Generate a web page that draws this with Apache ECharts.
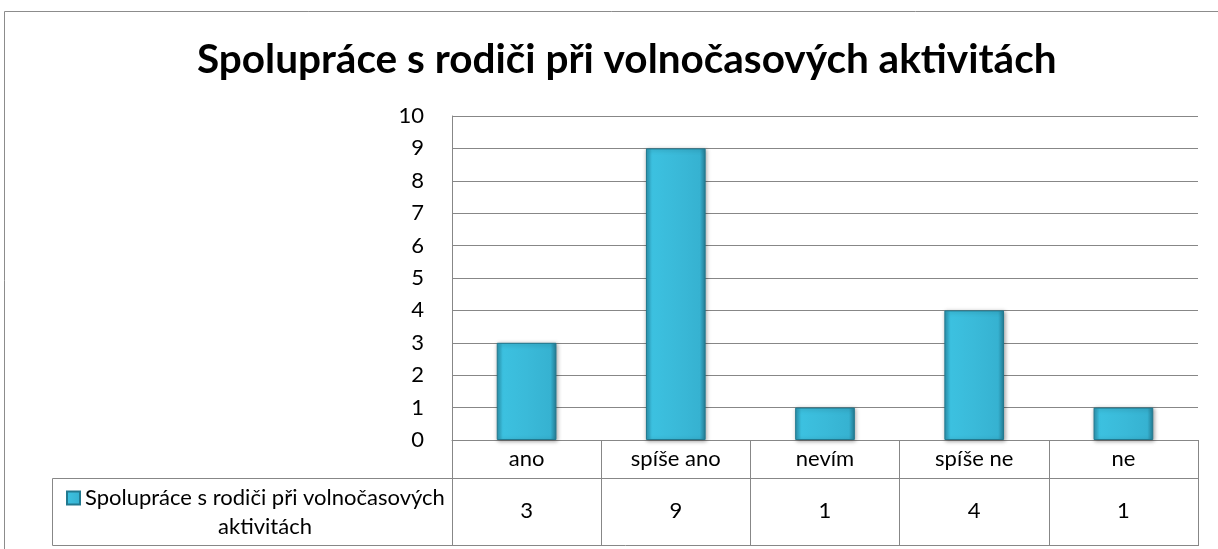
<!DOCTYPE html>
<html>
<head>
    <meta charset="utf-8" />
    <title>Spolupráce s rodiči</title>
    <script src="https://cdn.jsdelivr.net/npm/echarts@6/dist/echarts.min.js"></script>
    <style>
        html, body { margin: 0; padding: 0; background: #fff; }
    </style>
</head>
<body>
<div id="main" style="width:1218px;height:549px;"></div>

<script type="text/javascript">
    var categories = ['ano', 'spíše ano', 'nevím', 'spíše ne', 'ne'];
    var values = [3, 9, 1, 4, 1];
    var seriesName = 'Spolupráce s rodiči při volnočasových aktivitách';
    var legendLines = ['Spolupráce s rodiči při volnočasových', 'aktivitách'];
    var yTicks = [0, 10, 1];   // min, max, interval

    var lineGray = '#878787';
    var font = 'Lato, Carlito, Calibri, sans-serif';
    var legendSize = 22;

    // šířka prvního řádku legendy, aby šel druhý řádek vycentrovat
    var ctx = document.createElement('canvas').getContext('2d');
    ctx.font = legendSize + 'px ' + font;
    var firstLineW = Math.ceil(ctx.measureText(legendLines[0]).width);

    var myChart = echarts.init(document.getElementById('main'));

    var barFill = new echarts.graphic.LinearGradient(0, 0, 1, 0, [
        { offset: 0, color: '#2b95b1' },
        { offset: 0.1, color: '#3cc1e0' },
        { offset: 0.5, color: '#3abad9' },
        { offset: 0.9, color: '#36b2d1' },
        { offset: 1, color: '#257f98' }
    ]);

    var option = {
        backgroundColor: '#fff',
        animation: false,
        title: {
            text: seriesName,
            left: 192,
            top: 34,
            textStyle: {
                fontFamily: font,
                fontWeight: 'bold',
                fontSize: 40.5,
                color: '#000'
            }
        },
        legend: {
            left: 61,
            top: 482,
            itemWidth: 13,
            itemHeight: 13,
            itemGap: 4,
            icon: 'rect',
            selectedMode: false,
            formatter: function (name) {
                return '{a|' + legendLines[0] + '}\n{b|' + legendLines[1] + '}';
            },
            textStyle: {
                fontFamily: font,
                fontSize: legendSize,
                color: '#000',
                padding: [29, 0, 0, 0],
                rich: {
                    a: { fontSize: legendSize, lineHeight: 29, fontFamily: font },
                    b: { width: firstLineW, align: 'center', fontSize: legendSize, lineHeight: 29, fontFamily: font }
                }
            },
            data: [seriesName]
        },
        grid: {
            left: 452,
            right: 20,
            top: 116,
            bottom: 109
        },
        xAxis: [
            {
                type: 'category',
                data: categories,
                position: 'bottom',
                axisLine: { lineStyle: { color: lineGray } },
                axisTick: { show: true, length: 38, lineStyle: { color: lineGray } },
                axisLabel: { color: '#000', fontFamily: font, fontSize: 22, margin: 8 }
            },
            {
                // řádek tabulky s hodnotami
                type: 'category',
                data: values.map(String),
                position: 'bottom',
                offset: 38,
                axisLine: { lineStyle: { color: lineGray } },
                axisTick: { show: true, length: 68, lineStyle: { color: lineGray } },
                axisLabel: { color: '#000', fontFamily: font, fontSize: 22, margin: 22 }
            }
        ],
        yAxis: {
            type: 'value',
            min: yTicks[0],
            max: yTicks[1],
            interval: yTicks[2],
            axisLine: { show: true, lineStyle: { color: lineGray } },
            axisTick: { show: false },
            axisLabel: { color: '#000', fontFamily: font, fontSize: 22, margin: 28 },
            splitLine: { lineStyle: { color: lineGray, width: 1 } }
        },
        graphic: [
            {
                type: 'rect',
                shape: { x: 4.5, y: 11.5, width: 1300, height: 700 },
                style: { fill: 'none', stroke: '#8c8c8c', lineWidth: 1 },
                silent: true
            },
            {
                type: 'rect',
                shape: { x: 52.5, y: 478.5, width: 1146, height: 67 },
                style: { fill: 'none', stroke: lineGray, lineWidth: 1 },
                silent: true
            }
        ],
        series: [
            {
                name: seriesName,
                type: 'bar',
                xAxisIndex: 0,
                barWidth: '40%',
                data: values,
                itemStyle: {
                    color: barFill,
                    borderColor: '#22798f',
                    borderWidth: 1,
                    shadowColor: 'rgba(0,0,0,0.35)',
                    shadowBlur: 4,
                    shadowOffsetX: 1,
                    shadowOffsetY: 1
                }
            }
        ]
    };

    myChart.setOption(option);
</script>
</body>
</html>
